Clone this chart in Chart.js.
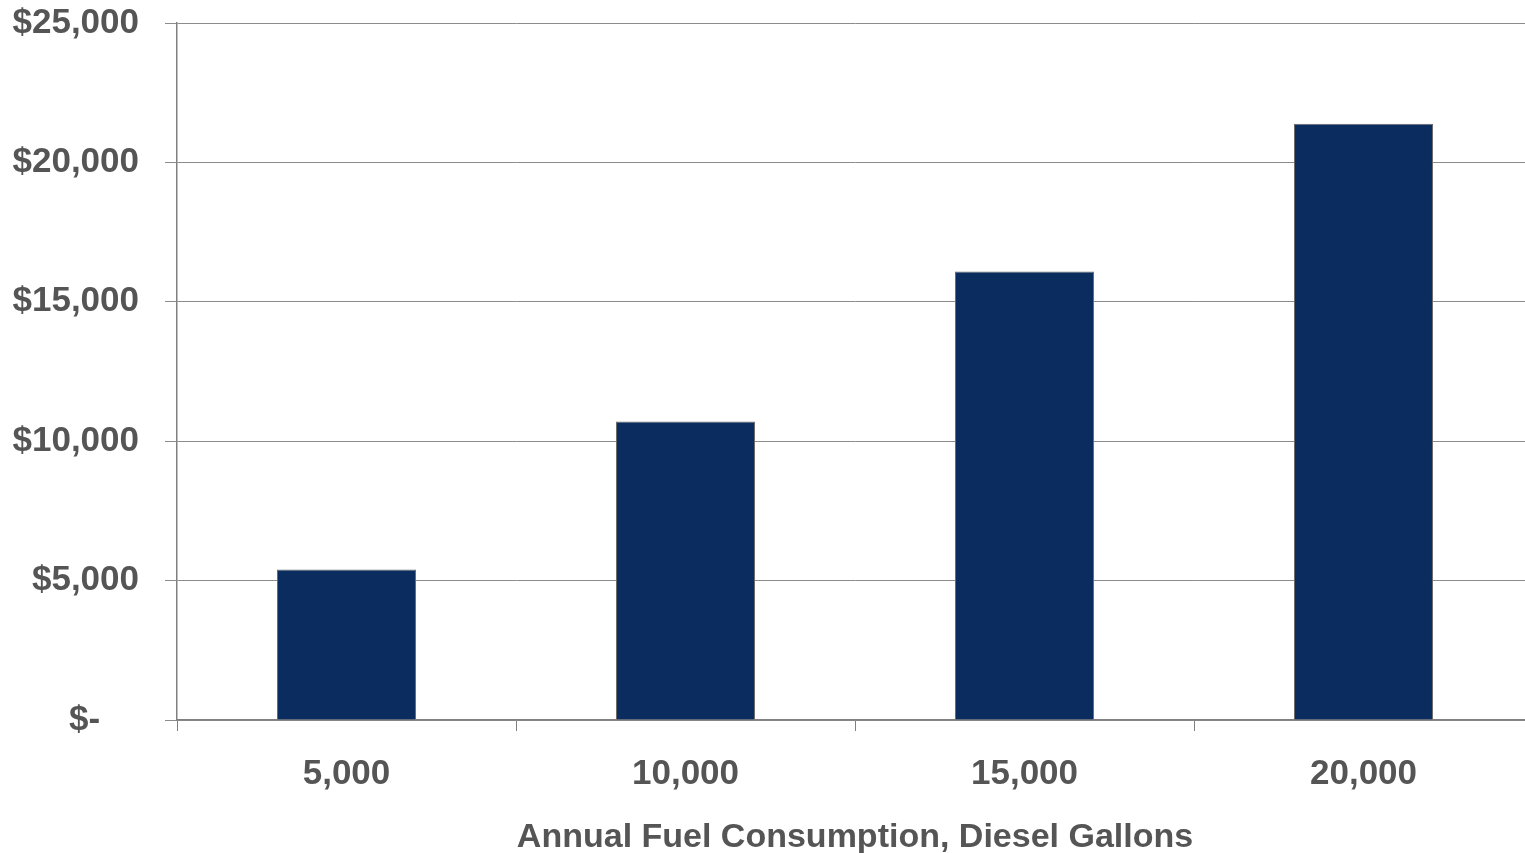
<!DOCTYPE html>
<html>
<head>
<meta charset="utf-8">
<script src="https://cdn.jsdelivr.net/npm/chart.js@4"></script>
<style>
  html, body { margin: 0; padding: 0; background: #fff; overflow: hidden; }
  #wrap { width: 1535px; height: 858px; position: relative; }
</style>
</head>
<body>
<div id="wrap"><canvas id="main-chart"></canvas></div>
<script>
const gallons = ["5,000", "10,000", "15,000", "20,000"];
const savings = [5400, 10710, 16085, 21390];
const yTickValues = [0, 5000, 10000, 15000, 20000, 25000];
const yTickLabels = ["$-\u00a0\u00a0\u00a0\u00a0", "$5,000", "$10,000", "$15,000", "$20,000", "$25,000"];
const xTitle = "Annual Fuel Consumption, Diesel Gallons";

const ctx = document.getElementById("main-chart").getContext("2d");
const textColor = "#555555";
const tickFont = { family: "'Liberation Sans', Arial, sans-serif", size: 35, weight: "bold" };
const titleFont = { family: "'Liberation Sans', Arial, sans-serif", size: 34, weight: "bold" };

new Chart(ctx, {
  type: "bar",
  data: {
    labels: gallons,
    datasets: [
      {
        data: savings,
        backgroundColor: "#0a2c5e",
        borderColor: "#6b6b6b",
        borderWidth: 1,
        barPercentage: 0.41,
        categoryPercentage: 1,
      },
    ],
  },
  options: {
    responsive: true,
    maintainAspectRatio: false,
    animation: false,
    layout: { padding: { top: 23, right: 2, left: 0, bottom: 0 } },
    scales: {
      x: {
        grid: {
          offset: true,
          drawOnChartArea: false,
          drawTicks: true,
          tickLength: 11,
          color: "#808080",
        },
        border: { display: true, color: "#808080", width: 1.5 },
        ticks: { color: textColor, font: tickFont, padding: 22 },
        title: {
          display: true,
          text: xTitle,
          color: textColor,
          font: titleFont,
          padding: { top: 4, bottom: 0 },
        },
        afterFit: (scale) => {
          scale.height = 138;
          scale.paddingLeft = 0;
          scale.paddingRight = 0;
        },
      },
      y: {
        min: 0,
        max: 25000,
        afterBuildTicks: (scale) => {
          scale.ticks = yTickValues.map((v) => ({ value: v }));
        },
        ticks: {
          color: textColor,
          font: tickFont,
          padding: 26,
          callback: (value) => yTickLabels[yTickValues.indexOf(value)],
        },
        grid: {
          color: "#8c8c8c",
          lineWidth: 1,
          tickLength: 12,
        },
        border: { display: true, color: "#808080", width: 1.5 },
        afterFit: (scale) => {
          scale.width = 177;
          scale.paddingTop = 0;
          scale.paddingBottom = 0;
        },
      },
    },
    plugins: {
      legend: { display: false },
      tooltip: { enabled: false },
    },
  },
});
</script>
</body>
</html>
